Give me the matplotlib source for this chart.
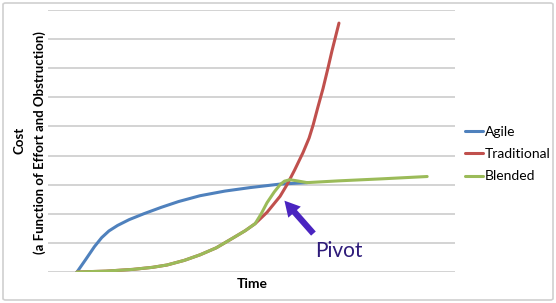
import matplotlib.pyplot as plt
from matplotlib.patches import FancyBboxPatch

plt.rcParams["font.family"] = ["Lato", "DejaVu Sans"]

agile_t = [0, 0.3, 0.6, 0.85, 1.1, 1.4, 1.8, 2.3, 2.9, 3.5, 4.24, 5.1, 5.97,
           7.0, 7.93]
agile_v = [0, 0.43, 0.87, 1.18, 1.41, 1.6, 1.8, 2.0, 2.22, 2.42, 2.62, 2.78,
           2.9, 3.02, 3.07]

trad_t = [0, 1.0, 1.93, 2.6, 3.1, 3.7, 4.24, 4.8, 5.38, 5.8, 6.14, 6.55, 7.0,
          7.24, 7.5, 7.79, 8.0, 8.14, 8.3, 8.48, 8.65, 8.79, 9.03]
trad_v = [0, 0.03, 0.09, 0.16, 0.24, 0.4, 0.59, 0.83, 1.17, 1.42, 1.66, 2.05,
          2.6, 3.0, 3.5, 4.1, 4.6, 5.05, 5.65, 6.3, 7.0, 7.6, 8.55]

blend_t = [0, 1.0, 1.93, 2.6, 3.1, 3.7, 4.24, 4.8, 5.38, 5.8, 6.14, 6.35,
           6.55, 6.8, 7.0, 7.15, 7.34, 7.59, 7.93, 9.0, 10.5, 12.07]
blend_v = [0, 0.03, 0.09, 0.16, 0.24, 0.4, 0.59, 0.83, 1.17, 1.42, 1.66, 2.0,
           2.38, 2.75, 3.0, 3.12, 3.17, 3.13, 3.07, 3.13, 3.2, 3.28]

series = ["Agile", "Traditional", "Blended"]
colors = ["#4F81BD", "#C0504D", "#9BBB59"]

W, H = 556, 303
fig = plt.figure(figsize=(W / 100, H / 100), dpi=100)
ax = fig.add_axes([48 / W, 1 - 272 / H, (455 - 48) / W, (272 - 10) / H])

for t, v, name, c in zip([agile_t, trad_t, blend_t], [agile_v, trad_v, blend_v],
                         series, colors):
    ax.plot(t, v, color=c, lw=2.2, label=name, solid_capstyle="round",
            solid_joinstyle="round")

ax.set_xlim(-1, 13.03)
ax.set_ylim(0, 9)
ax.set_yticks(range(10))
ax.grid(axis="y", color="#c8c8c8", lw=1.1)
ax.set_axisbelow(True)
ax.tick_params(left=False, bottom=False, labelleft=False, labelbottom=False)
for s in ax.spines.values():
    s.set_visible(False)

# pivot annotation
ax.annotate("", xy=(7.15, 2.45), xytext=(8.15, 1.32),
            arrowprops=dict(arrowstyle="simple,head_length=1.1,head_width=1.2,tail_width=0.45",
                            color="#4A24C0", lw=0, shrinkA=0, shrinkB=0))
ax.text(8.2, 0.5, "Pivot", color="#2E1B7A", fontsize=15, va="baseline",
        ha="left")

leg = ax.legend(loc="upper left", bbox_to_anchor=(459 / W, 1 - 120 / H),
                bbox_transform=fig.transFigure, frameon=False, fontsize=10,
                handlelength=1.3, handletextpad=0.15, labelspacing=0.75,
                borderaxespad=0)

fig.text(20 / W, 1 - 140 / H, "Cost", rotation=90, fontsize=9.5,
         fontweight="bold", ha="center", va="center")
fig.text(40 / W, 1 - 143 / H, "(a Function of Effort and Obstruction)",
         rotation=90, fontsize=9.5, fontweight="bold", ha="center", va="center")
fig.text(252 / W, 1 - 284 / H, "Time", fontsize=10, fontweight="bold",
         ha="center", va="center")

fig.patches.append(FancyBboxPatch((3 / W, 3 / H), (W - 6) / W, (H - 6) / H,
                                  boxstyle="round,pad=0,rounding_size=0.005",
                                  transform=fig.transFigure, fill=False,
                                  ec="#d0d0d0", lw=1.2))

fig.savefig("out.png", dpi=100)
